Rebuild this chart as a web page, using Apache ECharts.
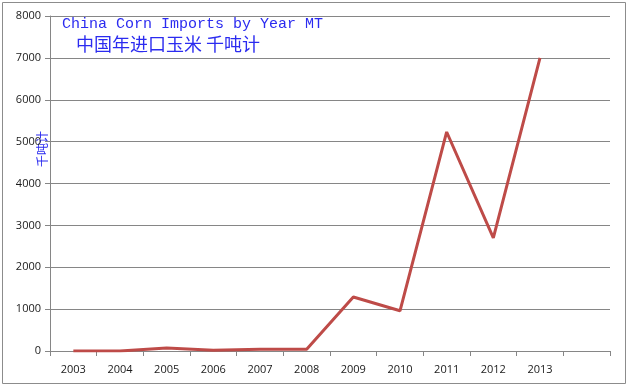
<!DOCTYPE html>
<html><head><meta charset="utf-8">
<script src="https://cdn.jsdelivr.net/npm/echarts@6/dist/echarts.min.js"></script>
<style>html,body{margin:0;padding:0;background:#fff}#c{width:629px;height:387px}</style>
</head><body><div id="c"></div>
<script>
const years = ['2003','2004','2005','2006','2007','2008','2009','2010','2011','2012','2013',''];
const imports = [0, 0, 70, 20, 40, 40, 1290, 960, 5230, 2700, 7000];
const titleEn = 'China Corn Imports by Year MT';
const titleZh = '中国年进口玉米 千吨计';
const yName = '千吨计';

const chart = echarts.init(document.getElementById('c'), null, {renderer:'canvas'});
chart.setOption({
  animation: false,
  backgroundColor: '#fff',
  graphic: [
    {type:'rect', shape:{x:2.5,y:2.5,width:623,height:381}, style:{fill:'none', stroke:'#8c8c8c', lineWidth:1}},
    {type:'text', x:42, y:149, rotation:Math.PI/2, style:{text:yName, fill:'#2b2bf0', font:'12px "Noto Sans CJK SC"', align:'center', verticalAlign:'middle'}}
  ],
  title: [
    {text: titleEn, left: 57, top: 12, textStyle:{fontFamily:'Liberation Mono', fontSize:15, fontWeight:'normal', color:'#2b2bf0'}},
    {text: titleZh, left: 71, top: 30, textStyle:{fontFamily:'Noto Sans CJK SC', fontSize:18, fontWeight:'normal', color:'#2b2bf0'}}
  ],
  grid: {left: 50, right: 19, top: 16, bottom: 36, containLabel:false, outerBoundsMode:'none'},
  xAxis: {
    type:'category', data: years, boundaryGap: true,
    axisLine:{lineStyle:{color:'#868686', width:1}},
    axisTick:{show:true, alignWithLabel:false, length:5, lineStyle:{color:'#868686'}},
    axisLabel:{color:'#1a1a1a', fontFamily:'Open Sans', fontSize:11, margin:13, interval:0}
  },
  yAxis: {
    type:'value', min:0, max:8000, interval:1000,
    axisLine:{show:true, lineStyle:{color:'#868686'}},
    axisTick:{show:true, length:5, lineStyle:{color:'#868686'}},
    axisLabel:{color:'#1a1a1a', fontFamily:'Open Sans', fontSize:11, margin:9, formatter: v => String(v)},
    splitLine:{lineStyle:{color:'#868686', width:1}}
  },
  series: [{
    type:'line', data: imports, symbol:'none', smooth:false,
    lineStyle:{color:'#be4b48', width:3}
  }]
});
</script></body></html>
